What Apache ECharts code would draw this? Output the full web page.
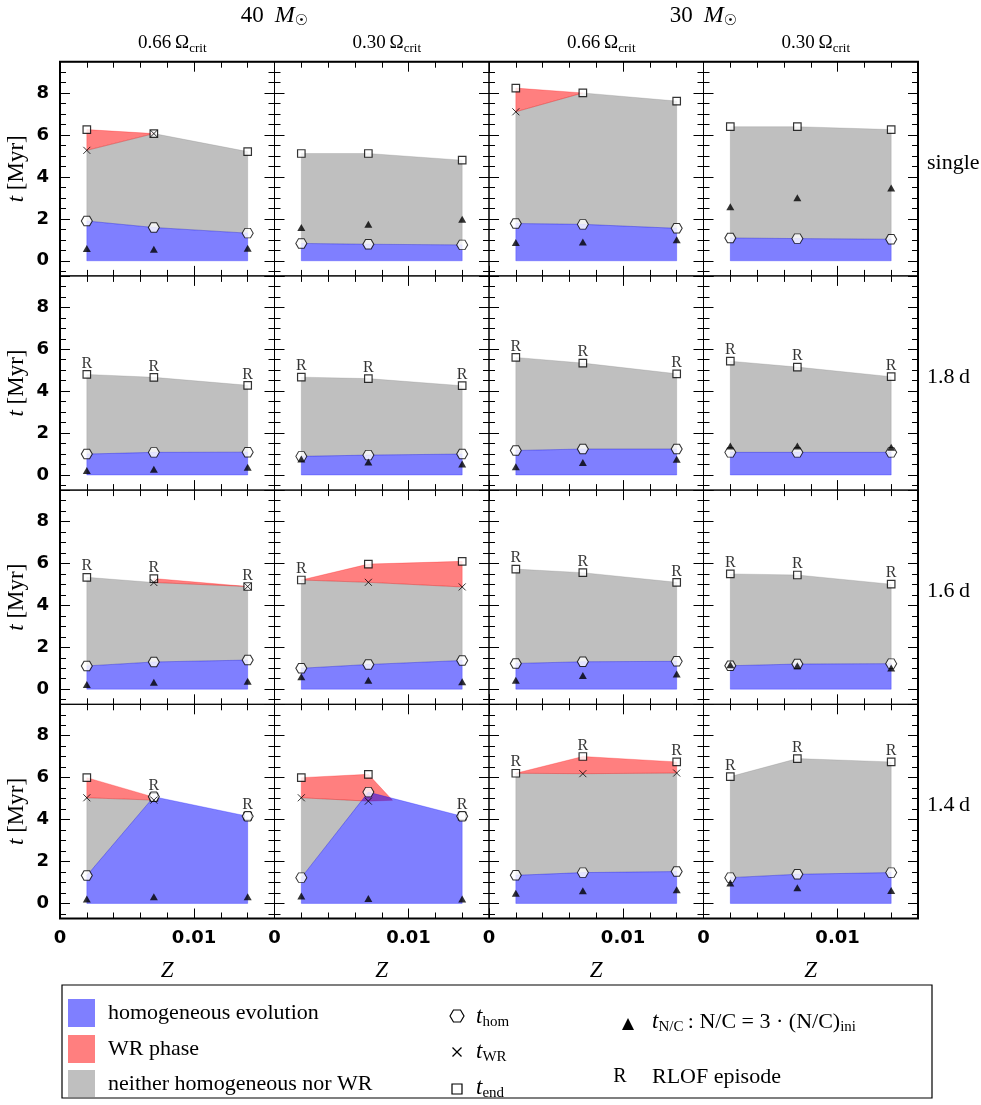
<!DOCTYPE html>
<html>
<head>
<meta charset="utf-8">
<script src="https://cdn.jsdelivr.net/npm/echarts@6.0.0/dist/echarts.min.js"></script>
<style>
  html, body { margin: 0; padding: 0; background: #fff; }
  #chart { width: 981px; height: 1105px; }
</style>
</head>
<body>
<div id="chart"></div>
<script>
// metallicities of the three model sets
var Z = [0.002, 0.007, 0.014];

var massLabels = ['40', '30'];
var omegaLabels = ['0.66', '0.30', '0.66', '0.30'];
var periodLabels = ['single', '1.8\u2009d', '1.6\u2009d', '1.4\u2009d'];

// [row][column] -> values at the three Z, in Myr
var tEnd = [
  [[6.26, 6.07, 5.21], [5.12, 5.12, 4.80], [8.24, 8.01, 7.62], [6.40, 6.40, 6.26]],
  [[4.80, 4.66, 4.28], [4.67, 4.60, 4.26], [5.61, 5.34, 4.83], [5.43, 5.15, 4.69]],
  [[5.34, 5.28, 4.90], [5.21, 5.97, 6.10], [5.73, 5.56, 5.10], [5.50, 5.45, 5.01]],
  [[6.00, 5.07, 4.16], [6.00, 6.16, 4.16], [6.21, 7.01, 6.75], [6.05, 6.91, 6.75]]
];
var tHom = [
  [[1.90, 1.59, 1.32], [0.83, 0.79, 0.76], [1.78, 1.74, 1.55], [1.09, 1.06, 1.03]],
  [[1.00, 1.08, 1.09], [0.89, 0.95, 1.00], [1.17, 1.24, 1.24], [1.08, 1.08, 1.08]],
  [[1.11, 1.30, 1.39], [1.00, 1.18, 1.37], [1.23, 1.31, 1.33], [1.12, 1.20, 1.22]],
  [[1.33, 5.09, 4.16], [1.23, 5.31, 4.16], [1.34, 1.47, 1.52], [1.23, 1.39, 1.47]]
];
// start of the WR phase (null = never WR)
var tWR = [
  [[5.27, 6.07, null], [null, null, null], [7.11, 8.01, null], [null, null, null]],
  [[null, null, null], [null, null, null], [null, null, null], [null, null, null]],
  [[null, 5.09, 4.90], [5.21, 5.10, 4.88], [null, null, null], [null, null, null]],
  [[5.04, 4.93, null], [5.04, 4.88, null], [6.21, 6.19, 6.22], [null, null, null]]
];
// whether the WR cross is drawn
var wrShown = [
  [[1, 1, 0], [0, 0, 0], [1, 0, 0], [0, 0, 0]],
  [[0, 0, 0], [0, 0, 0], [0, 0, 0], [0, 0, 0]],
  [[0, 1, 1], [0, 1, 1], [0, 0, 0], [0, 0, 0]],
  [[1, 1, 0], [1, 1, 0], [0, 1, 1], [0, 0, 0]]
];
// end point of the WR wedge where it closes between two models
var wrTip = [
  [null, null, null, null],
  [null, null, null, null],
  [null, null, null, null],
  [null, [0.0088, 4.92], null, null]
];
var tNC = [
  [[0.59, 0.55, 0.60], [1.59, 1.74, 1.98], [0.87, 0.90, 1.00], [2.58, 3.01, 3.47]],
  [[0.22, 0.28, 0.37], [0.76, 0.62, 0.52], [0.40, 0.60, 0.75], [1.39, 1.39, 1.32]],
  [[0.22, 0.33, 0.38], [0.59, 0.43, 0.35], [0.43, 0.65, 0.73], [1.17, 1.12, 1.01]],
  [[0.21, 0.32, 0.32], [0.35, 0.24, 0.21], [0.48, 0.60, 0.65], [0.97, 0.75, 0.62]]
];
var rlof = [
  [[0, 0, 0], [0, 0, 0], [0, 0, 0], [0, 0, 0]],
  [[1, 1, 1], [1, 1, 1], [1, 1, 1], [1, 1, 1]],
  [[1, 1, 1], [1, 0, 0], [1, 1, 1], [1, 1, 1]],
  [[0, 1, 1], [0, 0, 1], [1, 1, 1], [1, 1, 1]]
];

var SERIF = '"Liberation Serif", "DejaVu Serif", serif';
var SANS = '"DejaVu Sans", sans-serif';

var L0 = 60, T0 = 61.7, PW = 214.5, PH = 214.2;
var X_MAX = 0.016, Y_MIN = -0.72, Y_MAX = 9.5;

var BLUE = 'rgba(0,0,255,0.5)', RED = 'rgba(255,0,0,0.5)', GREY = 'rgba(127,127,127,0.5)';
var HEX = 'path://M-2,0L-1,-1.732L1,-1.732L2,0L1,1.732L-1,1.732Z';
var CROSS = 'path://M0,0L1,1M1,0L0,1';

// polygons between lo and hi where hi >= lo (crossings interpolated)
function bands(xs, lo, hi) {
  var polys = [], cur = null, n = xs.length;
  for (var i = 0; i < n; i++) {
    var di = hi[i] - lo[i];
    if (di >= 0) {
      if (!cur) cur = { low: [], up: [] };
      cur.low.push([xs[i], lo[i]]); cur.up.push([xs[i], hi[i]]);
    }
    if (i < n - 1) {
      var dj = hi[i + 1] - lo[i + 1];
      if ((di >= 0) !== (dj >= 0)) {
        var f = di / (di - dj);
        var p = [xs[i] + f * (xs[i + 1] - xs[i]), lo[i] + f * (lo[i + 1] - lo[i])];
        if (!cur) cur = { low: [], up: [] };
        cur.low.push(p); cur.up.push(p);
        if (di >= 0) { polys.push(cur); cur = null; }
      }
    }
  }
  if (cur) polys.push(cur);
  return polys.map(function (b) { return b.low.concat(b.up.slice().reverse()); });
}

function redPolys(wr, end, tip) {
  var polys = [], n = wr.length, i = 0;
  while (i < n) {
    if (wr[i] == null) { i++; continue; }
    var j = i;
    while (j + 1 < n && wr[j + 1] != null) j++;
    if (j > i) {
      var up = [], lo = [];
      for (var m = i; m <= j; m++) { up.push([Z[m], end[m]]); lo.push([Z[m], wr[m]]); }
      if (tip && j < n - 1) up.push(tip);
      polys.push(up.concat(lo.reverse()));
    }
    i = j + 1;
  }
  return polys;
}

function polySeries(k, polys, fill, z) {
  return {
    type: 'custom', xAxisIndex: 2 * k, yAxisIndex: 2 * k, silent: true, z: z, clip: false,
    data: polys.map(function (p, i) { return [p[0][0], p[0][1], i]; }),
    renderItem: function (params, api) {
      var pts = polys[params.dataIndex].map(function (p) { return api.coord(p); });
      return { type: 'polygon', shape: { points: pts }, style: { fill: fill, stroke: fill, lineWidth: 0.5 } };
    }
  };
}

function fmtX(v) {
  if (Math.abs(v) < 1e-9) return '0';
  if (Math.abs(v - 0.01) < 1e-9) return '0.01';
  return '';
}
function fmtY(v) {
  var r = Math.round(v);
  if (Math.abs(v - r) < 1e-6 && r % 2 === 0 && r >= 0 && r <= 8) return String(Math.abs(r));
  return '';
}

var grids = [], xAxes = [], yAxes = [], series = [];
var tick = { show: true, inside: true, length: 10, lineStyle: { color: '#000', width: 1 } };
function minor(n) { return { show: true, splitNumber: n, length: 6, lineStyle: { color: '#000', width: 1 } }; }
var noLine = { show: false, onZero: false };
var tickFont = { fontFamily: SANS, fontSize: 18, fontWeight: 'bold', color: '#000' };

function buildPanel(r, c) {
  var k = r * 4 + c;
  grids.push({ left: L0 + c * PW, top: T0 + r * PH, width: PW, height: PH,
    show: true, borderColor: '#000', borderWidth: 1, backgroundColor: 'transparent' });
  var xBase = { gridIndex: k, type: 'value', min: 0, max: X_MAX, interval: 0.01,
    axisLine: noLine, axisTick: tick, minorTick: minor(5),
    splitLine: { show: false }, minorSplitLine: { show: false } };
  xAxes.push(Object.assign({}, xBase, { position: 'bottom',
    axisLabel: Object.assign({ show: r === 3, formatter: fmtX, margin: 11 }, tickFont),
    name: r === 3 ? 'Z' : '', nameLocation: 'middle', nameGap: 41,
    nameTextStyle: { fontFamily: SERIF, fontStyle: 'italic', fontSize: 23, color: '#000' } }));
  xAxes.push(Object.assign({}, xBase, { position: 'top', axisLabel: { show: false } }));
  var yBase = { gridIndex: k, type: 'value', min: Y_MIN, max: Y_MAX, splitNumber: 5,
    axisLine: noLine, axisTick: tick, minorTick: minor(4),
    splitLine: { show: false }, minorSplitLine: { show: false } };
  yAxes.push(Object.assign({}, yBase, { position: 'left',
    axisLabel: Object.assign({ show: c === 0, formatter: fmtY, margin: 11 }, tickFont),
    name: c === 0 ? '{i|t} [Myr]' : '', nameLocation: 'middle', nameRotate: 90, nameGap: 32,
    nameTextStyle: { fontFamily: SERIF, fontSize: 23, color: '#000',
      rich: { i: { fontFamily: SERIF, fontStyle: 'italic', fontSize: 23 } } } }));
  yAxes.push(Object.assign({}, yBase, { position: 'right', axisLabel: { show: false } }));

  var hom = tHom[r][c], end = tEnd[r][c], wr = tWR[r][c];
  var upper = wr.map(function (w, i) { return w == null ? end[i] : w; });
  series.push(polySeries(k, bands(Z, hom, upper), GREY, 2));
  series.push(polySeries(k, redPolys(wr, end, wrTip[r][c]), RED, 3));
  series.push(polySeries(k, bands(Z, [0, 0, 0], hom), BLUE, 4));

  var common = { type: 'scatter', xAxisIndex: 2 * k, yAxisIndex: 2 * k, silent: true };
  series.push(Object.assign({}, common, { z: 5, symbol: 'rect', symbolSize: 7.5,
    itemStyle: { color: '#fff', borderColor: '#000', borderWidth: 1.2 },
    data: Z.map(function (z, i) { return [z, end[i]]; }) }));
  series.push(Object.assign({}, common, { z: 6, symbol: HEX, symbolSize: [11, 9.5],
    itemStyle: { color: '#fff', borderColor: '#000', borderWidth: 1 },
    data: Z.map(function (z, i) { return [z, hom[i]]; }) }));
  series.push(Object.assign({}, common, { z: 7, symbol: CROSS, symbolSize: 7,
    itemStyle: { color: 'rgba(0,0,0,0)', borderColor: '#000', borderWidth: 1 },
    data: Z.map(function (z, i) { return wrShown[r][c][i] ? [z, wr[i]] : null; })
      .filter(function (d) { return d; }) }));
  series.push(Object.assign({}, common, { z: 8, symbol: 'triangle', symbolSize: [8, 7],
    itemStyle: { color: '#000' },
    data: Z.map(function (z, i) { return [z, tNC[r][c][i]]; }) }));
  series.push(Object.assign({}, common, { z: 9, symbolSize: 0,
    label: { show: true, position: 'top', distance: 3, formatter: 'R',
      fontFamily: SERIF, fontSize: 16, color: '#000' },
    data: Z.map(function (z, i) { return rlof[r][c][i] ? [z, end[i]] : null; })
      .filter(function (d) { return d; }) }));
}
for (var row = 0; row < 4; row++) {
  for (var col = 0; col < 4; col++) buildPanel(row, col);
}

// titles, row labels, outer frame and legend
var graphics = [];
var subRich = {
  m: { fontFamily: SERIF, fontSize: 22, lineHeight: 26, verticalAlign: 'middle', fill: '#000' },
  i: { fontFamily: SERIF, fontSize: 23, fontStyle: 'italic', lineHeight: 26, verticalAlign: 'middle', fill: '#000' },
  s: { fontFamily: SERIF, fontSize: 15, lineHeight: 15, verticalAlign: 'bottom', fill: '#000' }
};
var colRich = {
  m: { fontFamily: SERIF, fontSize: 19, lineHeight: 24, verticalAlign: 'middle', fill: '#000' },
  s: { fontFamily: SERIF, fontSize: 13, lineHeight: 14, verticalAlign: 'bottom', fill: '#000' }
};
function txt(text, x, y, size, align, rich) {
  return { type: 'text', z: 50, silent: true,
    style: { text: text, x: x, y: y, fontFamily: SERIF, fontSize: size, fill: '#000',
      align: align || 'center', verticalAlign: 'middle', textAlign: align || 'center',
      textVerticalAlign: 'middle', rich: rich } };
}
massLabels.forEach(function (m, i) {
  graphics.push(txt('{m|' + m + '}  {i|M}{o|\u2609}', L0 + PW * (2 * i + 1), 16, 22, 'center', {
    m: { fontFamily: SERIF, fontSize: 23, lineHeight: 26, verticalAlign: 'middle', fill: '#000' },
    i: { fontFamily: SERIF, fontSize: 24, fontStyle: 'italic', lineHeight: 26, verticalAlign: 'middle', fill: '#000' },
    o: { fontFamily: SANS, fontSize: 15, lineHeight: 14, verticalAlign: 'bottom', fill: '#000' }
  }));
});
omegaLabels.forEach(function (o, c) {
  graphics.push(txt('{m|' + o + '\u2009\u03A9}{s|crit}', L0 + PW * (c + 0.5) + 5, 43, 19, 'center', colRich));
});
periodLabels.forEach(function (p, r) {
  graphics.push(txt(p, L0 + 4 * PW + 9, T0 + PH * (r + 0.5) - 6, 22, 'left'));
});
graphics.push({ type: 'rect', z: 60, silent: true,
  shape: { x: L0, y: T0, width: 4 * PW, height: 4 * PH },
  style: { fill: 'none', stroke: '#000', lineWidth: 2 } });

// legend box
graphics.push({ type: 'rect', z: 50, silent: true, shape: { x: 62, y: 985, width: 870, height: 113 },
  style: { fill: '#fff', stroke: '#000', lineWidth: 1.2 } });
[[BLUE, 'homogeneous evolution', 999], [RED, 'WR phase', 1035], [GREY, 'neither homogeneous nor WR', 1070]]
  .forEach(function (e) {
    graphics.push({ type: 'rect', z: 51, silent: true, shape: { x: 68, y: e[2], width: 27, height: 28 },
      style: { fill: e[0] } });
    graphics.push(txt(e[1], 108, e[2] + 14, 22, 'left'));
  });
var hx = 457;
graphics.push({ type: 'polygon', z: 51, silent: true,
  shape: { points: [[hx - 7, 1016], [hx - 3.5, 1010], [hx + 3.5, 1010], [hx + 7, 1016], [hx + 3.5, 1022], [hx - 3.5, 1022]] },
  style: { fill: '#fff', stroke: '#000', lineWidth: 1.2 } });
graphics.push({ type: 'polyline', z: 51, silent: true, shape: { points: [[hx - 4.5, 1047.5], [hx + 4.5, 1056.5]] },
  style: { stroke: '#000', lineWidth: 1.2 } });
graphics.push({ type: 'polyline', z: 51, silent: true, shape: { points: [[hx + 4.5, 1047.5], [hx - 4.5, 1056.5]] },
  style: { stroke: '#000', lineWidth: 1.2 } });
graphics.push({ type: 'rect', z: 51, silent: true, shape: { x: hx - 5, y: 1084, width: 10, height: 10 },
  style: { fill: '#fff', stroke: '#000', lineWidth: 1.2 } });
graphics.push(txt('{i|t}{s|hom}', 476, 1017, 22, 'left', subRich));
graphics.push(txt('{i|t}{s|WR}', 476, 1052, 22, 'left', subRich));
graphics.push(txt('{i|t}{s|end}', 476, 1088, 22, 'left', subRich));
graphics.push({ type: 'polygon', z: 51, silent: true,
  shape: { points: [[628, 1018], [634, 1030], [622, 1030]] }, style: { fill: '#000' } });
graphics.push(txt('{i|t}{s|N/C}{m|\u2009: N/C = 3 \u00B7 (N/C)}{s|ini}', 652, 1022, 22, 'left', subRich));
graphics.push(txt('R', 620, 1077, 20, 'center'));
graphics.push(txt('RLOF episode', 652, 1077, 22, 'left'));

var chart = echarts.init(document.getElementById('chart'), null, { renderer: 'canvas' });
chart.setOption({
  animation: false,
  backgroundColor: '#fff',
  grid: grids,
  xAxis: xAxes,
  yAxis: yAxes,
  series: series,
  graphic: graphics
});
</script>
</body>
</html>
